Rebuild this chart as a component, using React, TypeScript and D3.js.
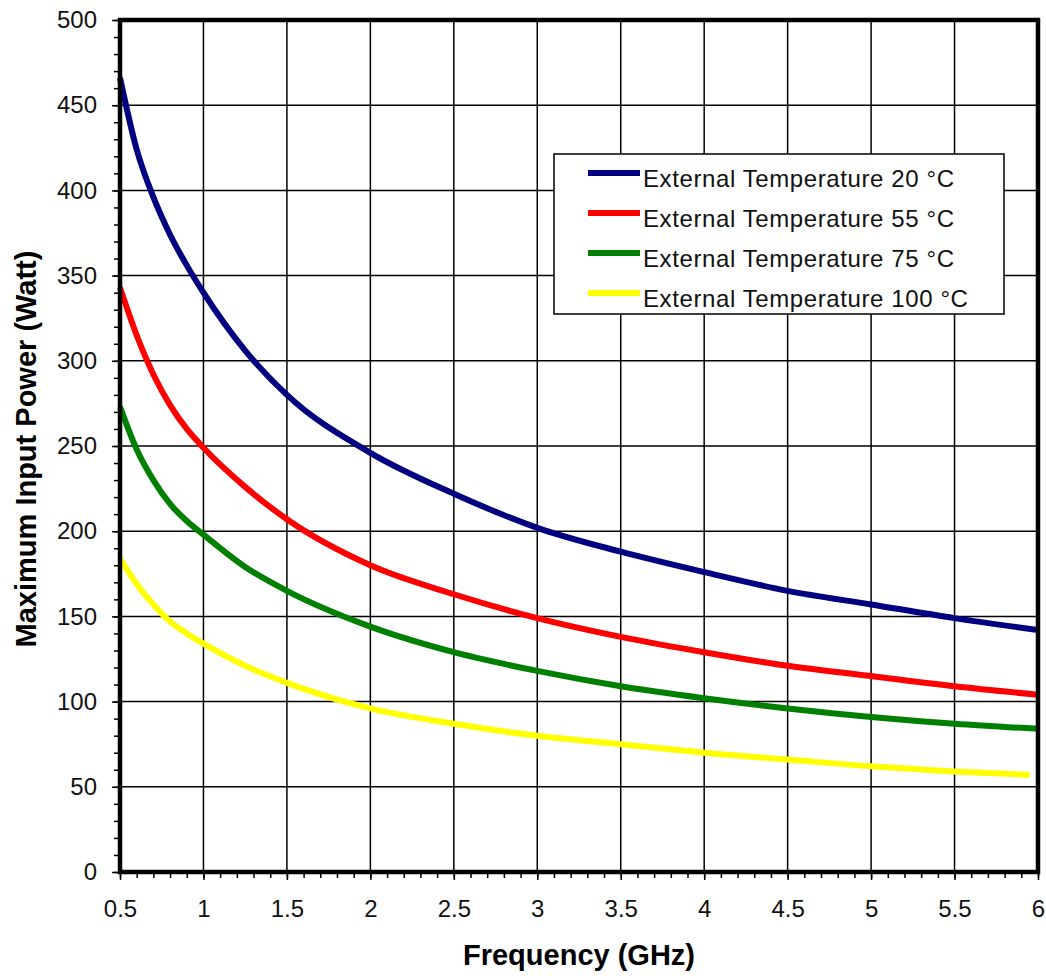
import React, { useEffect, useRef } from "react"
import * as d3 from "d3"

// frequency (GHz) sample points
const frequencies = [0.5, 0.6, 0.7, 0.8, 0.9, 1, 1.25, 1.5, 2, 2.5, 3, 3.5, 4, 4.5, 5, 5.5, 6]
const frequencies100 = [0.5, 0.6, 0.7, 0.8, 0.9, 1, 1.25, 1.5, 2, 2.5, 3, 3.5, 4, 4.5, 5, 5.5, 5.95]

// maximum input power (Watt)
const power20 = [466, 424, 396, 374, 356, 340, 306, 280, 246, 222, 202, 188, 176, 165, 157, 149, 142]
const power55 = [343, 315, 292, 274, 260, 249, 226, 207, 180, 163, 149, 138, 129, 121, 115, 109, 104]
const power75 = [273, 248, 230, 216, 206, 198, 179, 165, 144, 129, 118, 109, 102, 96, 91, 87, 84]
const power100 = [184, 169, 157, 147, 140, 134, 121, 111, 96, 87, 80, 75, 70, 66, 62, 59, 57]

const seriesNames = [
  "External Temperature 20 °C",
  "External Temperature 55 °C",
  "External Temperature 75 °C",
  "External Temperature 100 °C"
]
const seriesColors = ["#000080", "#ff0000", "#008000", "#ffff00"]

const xTicks = [0.5, 1, 1.5, 2, 2.5, 3, 3.5, 4, 4.5, 5, 5.5, 6]
const yTicks = [0, 50, 100, 150, 200, 250, 300, 350, 400, 450, 500]

const width = 1046
const height = 976
const plot = { left: 120, top: 20, right: 1038, bottom: 872 }
const font = "'Liberation Sans', Arial, sans-serif"

export default function App() {
  const ref = useRef<SVGSVGElement>(null)

  useEffect(() => {
    const svg = d3.select(ref.current)
    svg.selectAll("*").remove()

    const x = d3.scaleLinear().domain([0.5, 6]).range([plot.left, plot.right])
    const y = d3.scaleLinear().domain([0, 500]).range([plot.bottom, plot.top])

    svg.append("rect").attr("width", width).attr("height", height).attr("fill", "white")

    // grid
    const grid = svg.append("g").attr("stroke", "black").attr("stroke-width", 1.5)
    grid
      .selectAll("line.gx")
      .data(xTicks)
      .enter()
      .append("line")
      .attr("x1", d => x(d))
      .attr("x2", d => x(d))
      .attr("y1", plot.top)
      .attr("y2", plot.bottom)
    grid
      .selectAll("line.gy")
      .data(yTicks)
      .enter()
      .append("line")
      .attr("x1", plot.left)
      .attr("x2", plot.right)
      .attr("y1", d => y(d))
      .attr("y2", d => y(d))

    // minor ticks
    const xMinor = d3.range(0, 56).map(i => 0.5 + i * 0.1)
    const yMinor = d3.range(0, 51).map(i => i * 10)
    svg
      .append("g")
      .attr("transform", `translate(0 ${plot.bottom})`)
      .call(d3.axisBottom(x).tickValues(xMinor).tickSize(6).tickFormat(() => ""))
      .call(g => g.select(".domain").remove())
      .selectAll("line")
      .attr("stroke", "black")
      .attr("stroke-width", 1.5)
    svg
      .append("g")
      .attr("transform", `translate(${plot.left} 0)`)
      .call(d3.axisLeft(y).tickValues(yMinor).tickSize(6).tickFormat(() => ""))
      .call(g => g.select(".domain").remove())
      .selectAll("line")
      .attr("stroke", "black")
      .attr("stroke-width", 1.5)

    // major axes
    const xAxis = svg
      .append("g")
      .attr("transform", `translate(0 ${plot.bottom})`)
      .call(d3.axisBottom(x).tickValues(xTicks).tickSize(8).tickPadding(20).tickFormat(d3.format("")))
    const yAxis = svg
      .append("g")
      .attr("transform", `translate(${plot.left} 0)`)
      .call(d3.axisLeft(y).tickValues(yTicks).tickSize(8).tickPadding(15).tickFormat(d3.format("")))
    ;[xAxis, yAxis].forEach(a => {
      a.select(".domain").remove()
      a.selectAll("line").attr("stroke", "black").attr("stroke-width", 1.5)
      a.selectAll("text")
        .attr("fill", "#111")
        .attr("font-size", 24)
        .attr("font-family", font)
    })

    // curves
    const line = d3
      .line<[number, number]>()
      .x(d => x(d[0]))
      .y(d => y(d[1]))
      .curve(d3.curveMonotoneX)
    const series = [
      frequencies.map((f, i) => [f, power20[i]] as [number, number]),
      frequencies.map((f, i) => [f, power55[i]] as [number, number]),
      frequencies.map((f, i) => [f, power75[i]] as [number, number]),
      frequencies100.map((f, i) => [f, power100[i]] as [number, number])
    ]
    svg
      .append("g")
      .selectAll("path")
      .data(series)
      .enter()
      .append("path")
      .attr("d", d => line(d))
      .attr("fill", "none")
      .attr("stroke", (_, i) => seriesColors[i])
      .attr("stroke-width", 6)
      .attr("stroke-linejoin", "round")

    // frame
    svg
      .append("rect")
      .attr("x", plot.left)
      .attr("y", plot.top)
      .attr("width", plot.right - plot.left)
      .attr("height", plot.bottom - plot.top)
      .attr("fill", "none")
      .attr("stroke", "black")
      .attr("stroke-width", 4.5)

    // legend
    const legend = svg.append("g")
    legend
      .append("rect")
      .attr("x", 554)
      .attr("y", 154)
      .attr("width", 450)
      .attr("height", 160)
      .attr("fill", "white")
      .attr("stroke", "black")
      .attr("stroke-width", 1.5)
    const items = legend
      .selectAll("g")
      .data(seriesNames)
      .enter()
      .append("g")
      .attr("transform", (_, i) => `translate(0 ${173 + i * 40})`)
    items
      .append("line")
      .attr("x1", 588)
      .attr("x2", 640)
      .attr("stroke", (_, i) => seriesColors[i])
      .attr("stroke-width", 6)
    items
      .append("text")
      .attr("x", 643)
      .attr("y", 14)
      .attr("font-size", 24)
      .attr("font-family", font)
      .attr("letter-spacing", 0.6)
      .attr("fill", "#111")
      .text(d => d)

    // titles
    svg
      .append("text")
      .attr("x", (plot.left + plot.right) / 2)
      .attr("y", 965)
      .attr("text-anchor", "middle")
      .attr("font-size", 29)
      .attr("font-weight", "bold")
      .attr("font-family", font)
      .text("Frequency (GHz)")
    svg
      .append("text")
      .attr("transform", `translate(36 449) rotate(-90)`)
      .attr("text-anchor", "middle")
      .attr("font-size", 29)
      .attr("font-weight", "bold")
      .attr("font-family", font)
      .text("Maximum Input Power (Watt)")
  }, [])

  return (
    <svg
      ref={ref}
      width={width}
      height={height}
      style={{ position: "absolute", left: 0, top: 0 }}
    ></svg>
  )
}
